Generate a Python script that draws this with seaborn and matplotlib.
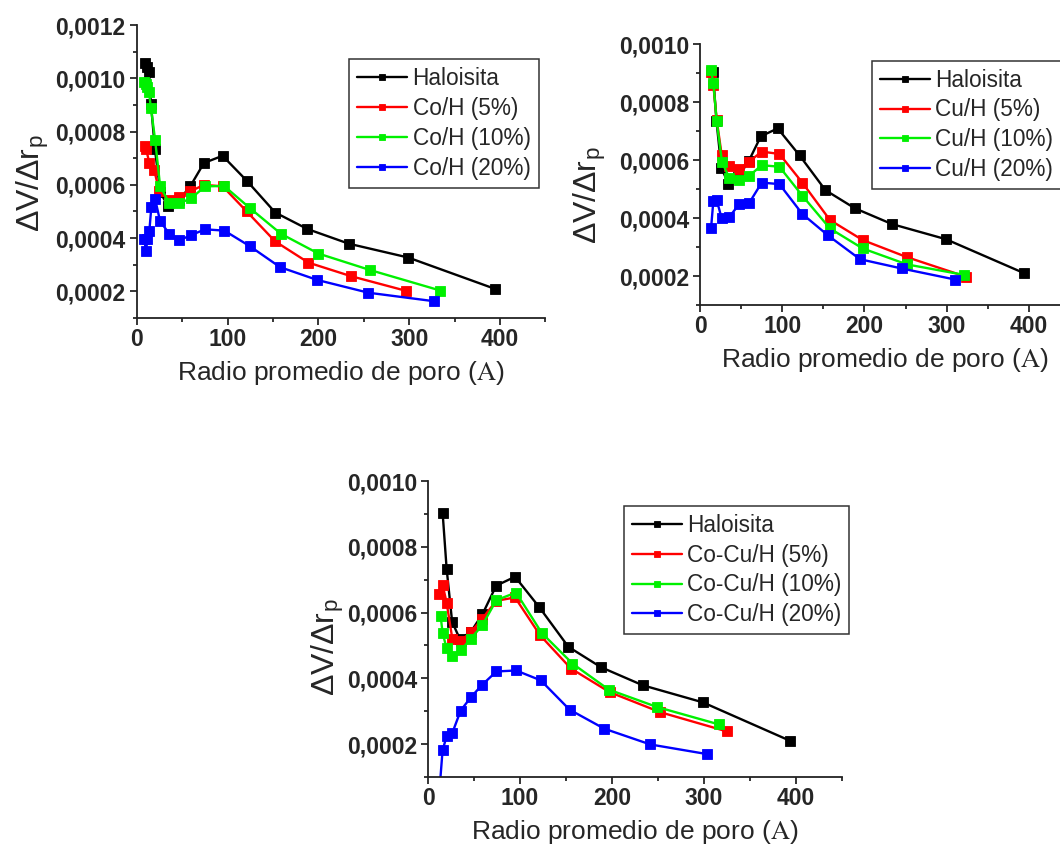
import pandas as pd
import matplotlib
matplotlib.use("Agg")
import matplotlib.pyplot as plt
import seaborn as sns
from matplotlib.ticker import MultipleLocator, FuncFormatter

sns.set_style("ticks")
plt.rcParams['font.family'] = ['Liberation Sans', 'DejaVu Sans']
plt.rcParams['mathtext.fontset'] = 'stix'

# ── Data (radio promedio de poro en A, dV/dr_p) ──────────────────────────────
hal_r = [9.5, 11.5, 13.5, 15.7, 20, 26, 34.5, 46.5, 59, 74, 94.5, 121, 152.5, 188, 233.5, 299, 394]
hal_v = [0.001057, 0.001042, 0.001023, 0.000902, 0.000734, 0.000572, 0.000519, 0.000542, 0.000595,
         0.000682, 0.000709, 0.000616, 0.000496, 0.000434, 0.000379, 0.000327, 0.000210]

# Co/H
co5_r = [9.1, 10.2, 13.9, 19.1, 24.9, 35.9, 47, 58.7, 74.1, 94.7, 121.1, 152.3, 189, 236, 296.6]
co5_v = [0.000745, 0.000736, 0.000682, 0.000657, 0.000575, 0.000544, 0.000556, 0.000575, 0.000600,
         0.000594, 0.000500, 0.000388, 0.000308, 0.000257, 0.000202]
co10_r = [8.4, 10.2, 11.7, 13.5, 15.7, 20.2, 25.7, 35.6, 47, 59.8, 75.2, 96.1, 124.8, 158.9, 200, 257, 334.4]
co10_v = [0.000985, 0.000979, 0.000966, 0.000947, 0.000887, 0.000770, 0.000596, 0.000533, 0.000531,
          0.000549, 0.000594, 0.000596, 0.000512, 0.000416, 0.000342, 0.000280, 0.000203]
co20_r = [8.4, 10.2, 11.7, 13.9, 16.1, 20.2, 25.7, 35.6, 47, 59.8, 75.2, 96.5, 124.8, 157.8, 198.6, 255, 327.4]
co20_v = [0.000395, 0.000351, 0.000395, 0.000427, 0.000518, 0.000547, 0.000464, 0.000417, 0.000392,
          0.000411, 0.000433, 0.000428, 0.000369, 0.000291, 0.000243, 0.000195, 0.000163]

# Cu/H
cu5_r = [13, 16.2, 20.3, 26.3, 35.7, 47.4, 59.6, 75, 96.5, 124.4, 158, 197.8, 251.7, 324]
cu5_v = [0.000902, 0.000860, 0.000738, 0.000618, 0.000580, 0.000569, 0.000594, 0.000629, 0.000621,
         0.000522, 0.000393, 0.000324, 0.000265, 0.000197]
cu10_r = [13.4, 16.2, 20.3, 26.7, 35.7, 47.4, 59.6, 75, 96.5, 124.4, 158, 197.8, 251.7, 321]
cu10_v = [0.000909, 0.000865, 0.000733, 0.000594, 0.000537, 0.000531, 0.000545, 0.000582, 0.000577,
          0.000477, 0.000364, 0.000295, 0.000240, 0.000204]
cu20_r = [13.4, 16.2, 20.3, 26.3, 35.7, 47.4, 59.6, 75, 96.5, 124.4, 155.2, 194.5, 245.2, 310]
cu20_v = [0.000364, 0.000459, 0.000462, 0.000399, 0.000404, 0.000447, 0.000451, 0.000522, 0.000517,
          0.000414, 0.000341, 0.000258, 0.000226, 0.000188]

# Co-Cu/H
cocu5_r = [12, 15.6, 20, 26.2, 35.3, 46.5, 58.9, 74.2, 94.5, 121.8, 155.3, 197.5, 252.7, 324.7]
cocu5_v = [0.000658, 0.000685, 0.000630, 0.000521, 0.000514, 0.000541, 0.000582, 0.000636, 0.000646,
           0.000531, 0.000430, 0.000358, 0.000297, 0.000239]
cocu10_r = [13.5, 15.6, 20, 26.2, 35.3, 46.5, 58.9, 74.2, 95.6, 123.6, 157, 196.4, 249, 316.4]
cocu10_v = [0.000589, 0.000539, 0.000491, 0.000467, 0.000485, 0.000521, 0.000562, 0.000638, 0.000661,
            0.000538, 0.000445, 0.000366, 0.000313, 0.000260]
cocu20_r = [12.5, 15.6, 20, 26.2, 35.3, 46.5, 58.9, 74.2, 95.6, 122.5, 153.8, 191.6, 241.8, 302.9]
cocu20_v = [0.000070, 0.000181, 0.000224, 0.000234, 0.000302, 0.000343, 0.000381, 0.000421, 0.000424,
            0.000394, 0.000305, 0.000247, 0.000199, 0.000170]

labels_co = ["Haloisita", "Co/H (5%)", "Co/H (10%)", "Co/H (20%)"]
labels_cu = ["Haloisita", "Cu/H (5%)", "Cu/H (10%)", "Cu/H (20%)"]
labels_cocu = ["Haloisita", "Co-Cu/H (5%)", "Co-Cu/H (10%)", "Co-Cu/H (20%)"]

COLORS = ["#000000", "#ff0000", "#00f000", "#0000ff"]


def build_df(series, names, ymax):
    frames = []
    for (r, v), name in zip(series, names):
        d = pd.DataFrame({"r": r, "v": v, "serie": name})
        # Origin leaves out points above the axis top
        d = d[d["v"] <= ymax * 1.001]
        frames.append(d)
    return pd.concat(frames, ignore_index=True)


def draw_panel(ax, series, names, ymax, leg_xy, ylab_xy):
    df = build_df(series, names, ymax)
    sns.lineplot(data=df, x="r", y="v", hue="serie", hue_order=names, palette=COLORS,
                 marker="s", markersize=7, markeredgewidth=0.6, linewidth=1.7,
                 sort=False, estimator=None, units="serie", legend=False, ax=ax)
    for ln, c in zip(ax.lines, COLORS):
        ln.set_markeredgecolor(c)
        ln.set_markerfacecolor(c)

    ax.set_xlim(0, 450)
    ax.set_ylim(0.0001, ymax)
    ax.xaxis.set_major_locator(MultipleLocator(100))
    ax.xaxis.set_minor_locator(MultipleLocator(50))
    ax.yaxis.set_major_locator(MultipleLocator(0.0002))
    ax.yaxis.set_minor_locator(MultipleLocator(0.0001))
    ax.yaxis.set_major_formatter(FuncFormatter(lambda y, p: f"{y:.4f}".replace(".", ",")))
    ax.xaxis.set_major_formatter(FuncFormatter(lambda x, p: f"{x:.0f}"))
    ax.tick_params(which="major", direction="out", length=5, width=1.3, labelsize=16.5, pad=3)
    ax.tick_params(axis="x", which="major", pad=2)
    ax.tick_params(which="minor", direction="out", length=3, width=1.3)
    for lab in ax.get_xticklabels() + ax.get_yticklabels():
        lab.set_fontweight("bold")
    sns.despine(ax=ax)
    for s in ("left", "bottom"):
        ax.spines[s].set_linewidth(1.3)
        ax.spines[s].set_color("#222222")

    ax.set_xlabel(r"Radio promedio de poro ($\mathrm{A}$)", fontsize=19, labelpad=6)
    ax.set_ylabel("ΔV/Δr$_\\mathregular{p}$", fontsize=23)
    ax.yaxis.set_label_coords(*ylab_xy)

    leg = ax.legend(handles=ax.lines[:4], labels=names, loc="upper left",
                    bbox_to_anchor=leg_xy, borderaxespad=0, fontsize=16.3,
                    frameon=True, fancybox=False, framealpha=1, edgecolor="#333333",
                    handlelength=2.2, handletextpad=0.25, labelspacing=0.3,
                    borderpad=0.35, markerscale=0.65, numpoints=1)
    leg.get_frame().set_linewidth(1.1)


fig = plt.figure(figsize=(10.6, 8.48), dpi=100)
ax1 = fig.add_axes([0.129, 0.625, 0.3855, 0.3455])
ax2 = fig.add_axes([0.6604, 0.6403, 0.3491, 0.3078])
ax3 = fig.add_axes([0.404, 0.0837, 0.39, 0.349])

draw_panel(ax1, [(hal_r, hal_v), (co5_r, co5_v), (co10_r, co10_v), (co20_r, co20_v)],
           labels_co, 0.0012, (0.52, 0.883), (-0.21, 0.46))
draw_panel(ax2, [(hal_r, hal_v), (cu5_r, cu5_v), (cu10_r, cu10_v), (cu20_r, cu20_v)],
           labels_cu, 0.0010, (0.465, 0.936), (-0.25, 0.42))
draw_panel(ax3, [(hal_r, hal_v), (cocu5_r, cocu5_v), (cocu10_r, cocu10_v), (cocu20_r, cocu20_v)],
           labels_cocu, 0.0010, (0.473, 0.916), (-0.20, 0.44))

fig.savefig("out.png", dpi=100)
plt.close(fig)
print("Saved -> out.png")
